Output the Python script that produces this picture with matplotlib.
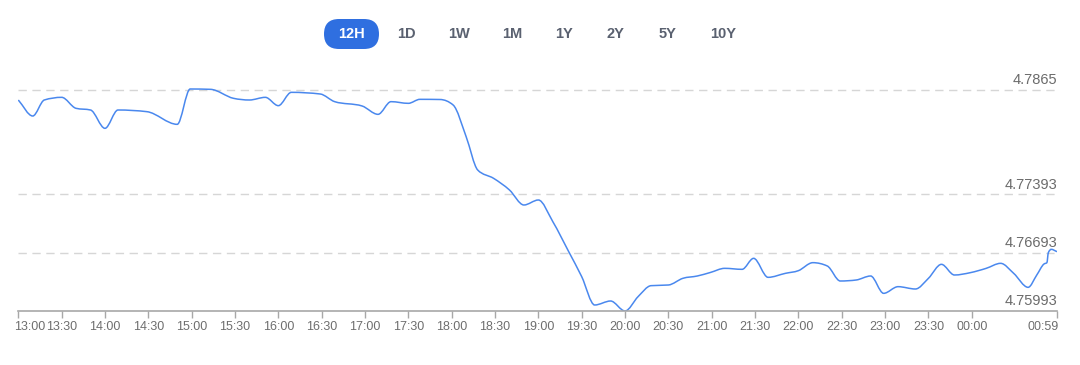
import numpy as np
import matplotlib
matplotlib.use("Agg")
import matplotlib.pyplot as plt
from matplotlib.path import Path
from matplotlib.patches import PathPatch, FancyBboxPatch
from matplotlib.transforms import IdentityTransform

plt.rcParams['font.family'] = ['Liberation Sans', 'DejaVu Sans']

# datos (12H)
horas = ["13:00", "13:10", "13:18", "13:30", "13:40", "13:50", "14:00", "14:09",
         "14:29", "14:50", "14:59", "15:13", "15:29", "15:40", "15:51", "16:00",
         "16:09", "16:29", "16:39", "16:58", "17:09", "17:18", "17:30", "17:38",
         "17:52", "18:01", "18:10", "18:18", "18:29", "18:40", "18:50", "19:00",
         "19:10", "19:21", "19:30", "19:39", "19:50", "20:00", "20:09", "20:18",
         "20:30", "20:40", "20:50", "20:59", "21:09", "21:21", "21:29", "21:39",
         "21:51", "22:00", "22:10", "22:20", "22:29", "22:40", "22:50", "22:59",
         "23:09", "23:21", "23:30", "23:39", "23:48", "23:59", "00:10", "00:20",
         "00:29", "00:39", "00:45", "00:50", "00:52", "00:53", "00:55", "00:59"]
valores = [4.78525, 4.78333, 4.78525, 4.78557, 4.78425, 4.78405, 4.78185, 4.78405,
           4.78385, 4.78233, 4.78657, 4.78653, 4.78545, 4.78525, 4.78557, 4.78457,
           4.78617, 4.78597, 4.78505, 4.78453, 4.78353, 4.78505, 4.78485, 4.78533,
           4.78531, 4.78465, 4.78085, 4.77685, 4.77585, 4.77445, 4.77265, 4.77325,
           4.77065, 4.76705, 4.76405, 4.76065, 4.76113, 4.75993, 4.76165, 4.76297,
           4.76305, 4.76385, 4.76413, 4.76455, 4.76505, 4.76493, 4.76625, 4.76397,
           4.76445, 4.76477, 4.76573, 4.76533, 4.76353, 4.76365, 4.76413, 4.76205,
           4.76285, 4.76257, 4.76385, 4.76553, 4.76425, 4.76453, 4.76505, 4.76565,
           4.76445, 4.76277, 4.76425, 4.76557, 4.76573, 4.76693, 4.76733, 4.76705]

etiquetas_x = ["13:00", "13:30", "14:00", "14:30", "15:00", "15:30", "16:00", "16:30",
               "17:00", "17:30", "18:00", "18:30", "19:00", "19:30", "20:00", "20:30",
               "21:00", "21:30", "22:00", "22:30", "23:00", "23:30", "00:00", "00:59"]
niveles_y = [4.75993, 4.76693, 4.77393, 4.7865]
etiquetas_y = ["4.75993", "4.76693", "4.77393", "4.7865"]
botones = ["12H", "1D", "1W", "1M", "1Y", "2Y", "5Y", "10Y"]


def minutos(h):
    hh, mm = h.split(":")
    m = int(hh) * 60 + int(mm) - 13 * 60
    if m < 0:
        m += 24 * 60
    return m


x = np.array([minutos(h) for h in horas], dtype=float)
y = np.array(valores)
xt = [minutos(h) for h in etiquetas_x]


# curva suave tipo "monotone x" (solo como forma de dibujar)
def curva_monotona(x, y):
    n = len(x)
    h = np.diff(x)
    s = np.diff(y) / h
    t = np.zeros(n)
    for i in range(1, n - 1):
        p = (s[i - 1] * h[i] + s[i] * h[i - 1]) / (h[i - 1] + h[i])
        t[i] = (np.sign(s[i - 1]) + np.sign(s[i])) * min(abs(s[i - 1]), abs(s[i]), 0.5 * abs(p))
    t[0] = s[0]
    t[-1] = s[-1]
    verts = [(x[0], y[0])]
    codes = [Path.MOVETO]
    for i in range(n - 1):
        d = h[i] / 3
        verts += [(x[i] + d, y[i] + d * t[i]), (x[i + 1] - d, y[i + 1] - d * t[i + 1]), (x[i + 1], y[i + 1])]
        codes += [Path.CURVE4] * 3
    return Path(verts, codes)


fig = plt.figure(figsize=(10.8, 3.65), dpi=100)
ax = fig.add_axes([18.3 / 1080, 54 / 365, 1038.7 / 1080, 236 / 365])

ax.add_patch(PathPatch(curva_monotona(x, y), fill=False, ec='#4a88ee', lw=1.1))
ax.set_xlim(0, minutos("00:59"))
ax.set_ylim(4.75993, 4.78825)

for v, et in zip(niveles_y, etiquetas_y):
    if v > niveles_y[0]:
        ax.axhline(v, color='#d6d6d6', lw=1, ls=(0, (6, 4)), zorder=0)
    ax.annotate(et, xy=(1, v), xycoords=('axes fraction', 'data'), xytext=(0, 2),
                textcoords='offset points', ha='right', va='bottom', fontsize=10.5, color='#6b6b6b')

for lado in ['top', 'right', 'left']:
    ax.spines[lado].set_visible(False)
ax.spines['bottom'].set_color('#a8a8a8')
ax.spines['bottom'].set_linewidth(1.2)
ax.set_yticks([])
ax.set_xticks(xt)
ax.set_xticklabels(etiquetas_x)
ax.tick_params(axis='x', length=5, width=1, color='#a8a8a8', labelsize=9, labelcolor='#6e6e6e', pad=2)
labs = ax.get_xticklabels()
labs[0].set_ha('left')
labs[0].set_x(labs[0].get_position()[0])
labs[-1].set_ha('right')
# pequeño corrimiento del primer rotulo
import matplotlib.transforms as mtrans
labs[0].set_transform(labs[0].get_transform() + mtrans.ScaledTranslation(-4 / 100, 0, fig.dpi_scale_trans))
labs[-1].set_transform(labs[-1].get_transform() + mtrans.ScaledTranslation(2 / 100, 0, fig.dpi_scale_trans))

# botones de periodo
pos_x = [351.5, 406.7, 459, 512.7, 564.3, 615, 667.3, 723.3]
fig.add_artist(FancyBboxPatch((324, 365 - 49), 55, 30, boxstyle='round,pad=0,rounding_size=15',
                              fc='#2f6fe0', ec='none', transform=IdentityTransform()))
for b, px in zip(botones, pos_x):
    fig.text(px / 1080, 1 - 34 / 365, b, ha='center', va='center', fontsize=10.5,
             fontweight='bold', color='white' if b == "12H" else '#5a6170')

plt.savefig('out.png', dpi=100)
